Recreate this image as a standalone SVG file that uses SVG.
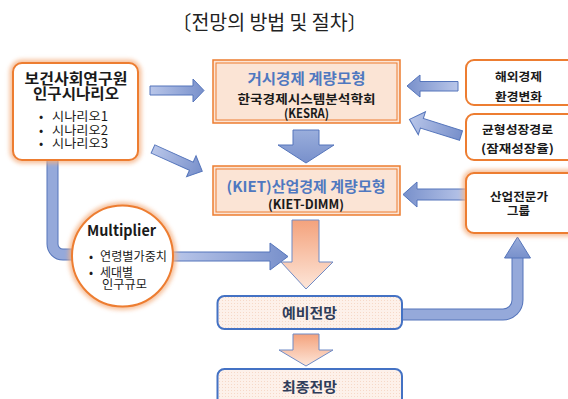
<svg xmlns="http://www.w3.org/2000/svg" width="568" height="399" viewBox="0 0 568 399">
<defs>
<style>
text{font-family:"Noto Sans CJK KR","Noto Sans",sans-serif;}
.b{font-weight:bold;}
.blk{fill:#1a1a1a;}
.blue{fill:#4f78c0;font-weight:bold;}
.peach{fill:#fbe4d5;stroke:#ed7d31;stroke-width:1.5;}
.peachin{fill:none;stroke:#ed7d31;stroke-width:1;}
.wbox{fill:#ffffff;stroke:#ed7d31;stroke-width:2;}
.glow{fill:none;stroke:#f4b183;stroke-width:7;opacity:0.8;filter:url(#blur);}
.barr{stroke:#5575bb;stroke-width:1;}
.oarr{fill:url(#og);stroke:#6f8bc6;stroke-width:1;}
.pbox{fill:url(#dots);stroke:#4472c4;stroke-width:2;}
.band{fill:none;stroke:#5575bb;stroke-width:12;}
.bandin{fill:none;stroke:#95a9da;stroke-width:10;}
</style>
<filter id="blur" x="-30%" y="-30%" width="160%" height="160%"><feGaussianBlur stdDeviation="2"/></filter>
<linearGradient id="bgR" x1="0" y1="0" x2="1" y2="0"><stop offset="0" stop-color="#b9c6e9"/><stop offset="1" stop-color="#7890cb"/></linearGradient>
<linearGradient id="bgL" x1="1" y1="0" x2="0" y2="0"><stop offset="0" stop-color="#b9c6e9"/><stop offset="1" stop-color="#7890cb"/></linearGradient>
<linearGradient id="bgD" x1="0" y1="0" x2="0" y2="1"><stop offset="0" stop-color="#9aaedc"/><stop offset="1" stop-color="#7890cb"/></linearGradient>
<linearGradient id="og" x1="0" y1="0" x2="0" y2="1"><stop offset="0" stop-color="#f4a27c"/><stop offset="1" stop-color="#fde6d9"/></linearGradient>
<pattern id="dots" width="3" height="3" patternUnits="userSpaceOnUse"><rect width="3" height="3" fill="#fdf1ea"/><rect width="1" height="1" fill="#f6d9c8"/></pattern>
</defs>

<text x="172" y="30" font-size="20" fill="#222" textLength="195" lengthAdjust="spacingAndGlyphs">〔전망의 방법 및 절차〕</text>

<g id="connectors">
<path class="band" d="M52.5,158 V244 A10.5,10.5 0 0 0 63,254.5 H76"/>
<path class="bandin" d="M52.5,158 V244 A10.5,10.5 0 0 0 63,254.5 H76"/>
<path class="band" d="M400,314.5 H503 A14.5,14.5 0 0 0 517.5,300 V257"/>
<path class="bandin" d="M400,314.5 H503 A14.5,14.5 0 0 0 517.5,300 V257"/>
<polygon class="barr" fill="url(#bgD)" points="504.5,258 530.5,258 517.5,237"/>
<polygon class="barr" fill="url(#bgR)" points="150,86 193,86 193,79 204,90.5 193,102 193,95 150,95"/>
<polygon class="barr" fill="url(#bgR)" transform="translate(153,149) rotate(24.2)" points="0,-4.5 42,-4.5 42,-11.5 54,0 42,11.5 42,4.5 0,4.5"/>
<polygon class="barr" fill="url(#bgD)" points="293,130 319,130 319,145 334,145 306,163 278,145 293,145"/>
<polygon class="barr" fill="url(#bgL)" points="458,81.5 420,81.5 420,75 407,86 420,97 420,91 458,91"/>
<polygon class="barr" fill="url(#bgL)" transform="translate(461,135.5) rotate(197.4)" points="0,-5 41,-5 41,-12 54,0 41,12 41,5 0,5"/>
<polygon class="barr" fill="url(#bgL)" points="466,189 417,189 417,182 403,194.5 417,207 417,200 466,200"/>
<polygon class="barr" fill="url(#bgR)" points="173,252 270,252 270,243 288,256.5 270,270 270,261 173,261"/>
<polygon class="oarr" points="292,220 319,220 319,262 333,262 306,289 281,262 292,262"/>
<polygon class="oarr" points="293,334 319,334 319,350 333,350 306,366 279,350 293,350"/>
</g>

<g id="kihasa">
<rect class="glow" x="13" y="63" width="125" height="97" rx="9"/>
<rect class="wbox" x="13" y="63" width="125" height="97" rx="9"/>
<text class="b blk" font-size="15" text-anchor="middle"><tspan x="76" y="84" textLength="103" lengthAdjust="spacingAndGlyphs">보건사회연구원</tspan><tspan x="76" y="99" textLength="86" lengthAdjust="spacingAndGlyphs">인구시나리오</tspan></text>
<text class="blk" font-size="12.5"><tspan x="39" y="121">•</tspan><tspan x="52" y="121" textLength="56" lengthAdjust="spacingAndGlyphs">시나리오1</tspan><tspan x="39" y="134.5">•</tspan><tspan x="52" y="134.5" textLength="56" lengthAdjust="spacingAndGlyphs">시나리오2</tspan><tspan x="39" y="148">•</tspan><tspan x="52" y="148" textLength="56" lengthAdjust="spacingAndGlyphs">시나리오3</tspan></text>
</g>

<g id="macro">
<rect class="peach" x="213" y="60" width="187" height="63"/>
<rect class="peachin" x="216" y="63" width="181" height="57"/>
<text class="blue" x="306.5" y="84" font-size="14.5" text-anchor="middle" textLength="118" lengthAdjust="spacingAndGlyphs">거시경제 계량모형</text>
<text class="b blk" font-size="12.5" text-anchor="middle"><tspan x="306.5" y="104" textLength="138" lengthAdjust="spacingAndGlyphs">한국경제시스템분석학회</tspan><tspan x="306.5" y="118" textLength="45" lengthAdjust="spacingAndGlyphs">(KESRA)</tspan></text>
</g>

<g id="kiet">
<rect class="peach" x="213" y="166" width="187" height="49"/>
<rect class="peachin" x="216" y="169" width="181" height="43"/>
<text class="blue" x="306" y="192" font-size="14.5" text-anchor="middle" textLength="159" lengthAdjust="spacingAndGlyphs">(KIET)산업경제 계량모형</text>
<text class="b blk" x="306" y="209" font-size="12.5" text-anchor="middle" textLength="76" lengthAdjust="spacingAndGlyphs">(KIET-DIMM)</text>
</g>

<g id="overseas">
<rect class="wbox" x="466" y="60" width="112" height="45" rx="8"/>
<text class="b blk" font-size="11.8" text-anchor="middle"><tspan x="518.5" y="81" textLength="47" lengthAdjust="spacingAndGlyphs">해외경제</tspan><tspan x="518.5" y="101" textLength="47" lengthAdjust="spacingAndGlyphs">환경변화</tspan></text>
</g>

<g id="balanced">
<rect class="wbox" x="466" y="114" width="112" height="46" rx="8"/>
<text class="b blk" font-size="11.8" text-anchor="middle"><tspan x="517.5" y="134" textLength="71" lengthAdjust="spacingAndGlyphs">균형성장경로</tspan><tspan x="517.5" y="153" textLength="73" lengthAdjust="spacingAndGlyphs">(잠재성장율)</tspan></text>
</g>

<g id="experts">
<rect class="glow" x="466" y="173" width="112" height="60" rx="8"/>
<rect class="wbox" x="466" y="173" width="112" height="60" rx="8"/>
<text class="b blk" font-size="11.8" text-anchor="middle"><tspan x="519" y="201" textLength="58" lengthAdjust="spacingAndGlyphs">산업전문가</tspan><tspan x="518.5" y="215" textLength="23" lengthAdjust="spacingAndGlyphs">그룹</tspan></text>
</g>

<g id="multiplier">
<circle class="glow" cx="122.5" cy="256" r="50.5"/>
<circle class="wbox" cx="122.5" cy="256" r="50.5"/>
<text class="b blk" x="121.5" y="236" font-size="15" text-anchor="middle" textLength="69" lengthAdjust="spacingAndGlyphs">Multiplier</text>
<text class="blk" font-size="12"><tspan x="89" y="261">•</tspan><tspan x="100" y="261" textLength="67" lengthAdjust="spacingAndGlyphs">연령별가중치</tspan><tspan x="89" y="277">•</tspan><tspan x="100" y="277" textLength="33" lengthAdjust="spacingAndGlyphs">세대별</tspan><tspan x="102" y="289" textLength="45" lengthAdjust="spacingAndGlyphs">인구규모</tspan></text>
</g>

<g id="prelim">
<rect class="pbox" x="217.5" y="296" width="184.5" height="33" rx="7"/>
<text class="b" fill="#2f3d5a" x="309.5" y="318" font-size="14" text-anchor="middle" textLength="55" lengthAdjust="spacingAndGlyphs">예비전망</text>
</g>

<g id="final">
<rect class="pbox" x="217.5" y="369" width="184.5" height="40" rx="7"/>
<text class="b" fill="#2f3d5a" x="309.5" y="392" font-size="14" text-anchor="middle" textLength="55" lengthAdjust="spacingAndGlyphs">최종전망</text>
</g>
</svg>
